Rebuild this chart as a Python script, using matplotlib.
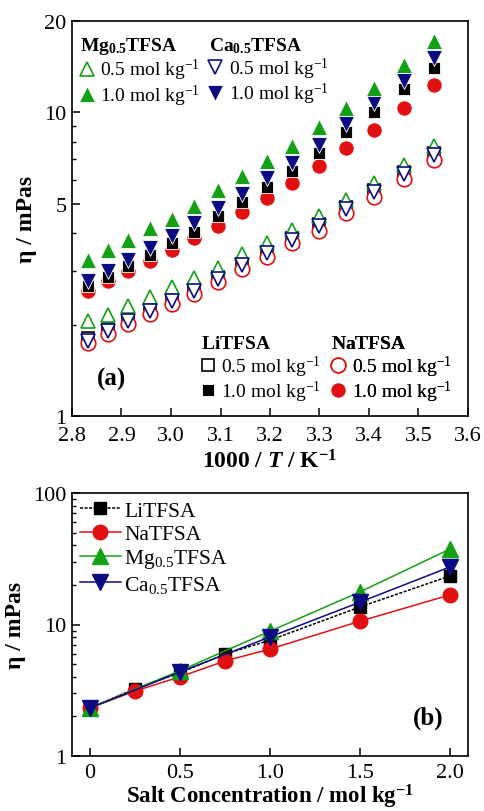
import matplotlib
matplotlib.use("Agg")
import matplotlib.pyplot as plt
from matplotlib.lines import Line2D
from matplotlib.ticker import FixedLocator, FixedFormatter, LogLocator, NullFormatter

# ---- panel (a): viscosity vs 1000/T ----
INV_T = [2.832, 2.872, 2.914, 2.957, 3.002, 3.047, 3.095, 3.143,
         3.193, 3.245, 3.299, 3.354, 3.411, 3.470, 3.532]

LI_05 = [1.80, 1.93, 2.08, 2.25, 2.42, 2.62, 2.87, 3.17, 3.48, 3.85, 4.28, 4.88, 5.55, 6.35, 7.35]
NA_05 = [1.74, 1.86, 2.01, 2.17, 2.33, 2.52, 2.76, 3.06, 3.34, 3.70, 4.08, 4.65, 5.28, 6.05, 6.98]
MG_05 = [2.05, 2.15, 2.30, 2.47, 2.66, 2.85, 3.07, 3.42, 3.72, 4.10, 4.56, 5.15, 5.85, 6.71, 7.75]
CA_05 = [1.77, 1.90, 2.05, 2.22, 2.39, 2.58, 2.83, 3.14, 3.44, 3.80, 4.22, 4.81, 5.47, 6.27, 7.24]

LI_10 = [2.68, 2.88, 3.12, 3.40, 3.70, 4.05, 4.55, 5.05, 5.70, 6.40, 7.35, 8.60, 10.0, 11.9, 14.0]
NA_10 = [2.58, 2.78, 3.00, 3.24, 3.52, 3.86, 4.22, 4.70, 5.22, 5.85, 6.66, 7.63, 8.75, 10.3, 12.3]
MG_10 = [3.26, 3.52, 3.80, 4.16, 4.46, 4.92, 5.55, 6.17, 6.92, 7.75, 8.95, 10.3, 12.0, 14.3, 17.2]
CA_10 = [2.78, 3.00, 3.26, 3.57, 3.92, 4.32, 4.84, 5.39, 6.08, 6.81, 7.81, 9.16, 10.7, 12.7, 15.1]

# ---- panel (b): viscosity vs salt concentration ----
CONC_MONO = [0, 0.25, 0.5, 0.75, 1.0, 1.5, 2.0]
CONC_DI = [0, 0.5, 1.0, 1.5, 2.0]
LI_B = [2.32, 3.25, 4.30, 5.95, 7.6, 13.6, 23.4]
NA_B = [2.32, 3.12, 4.00, 5.28, 6.5, 10.6, 16.8]
MG_B = [2.32, 4.45, 8.9, 17.7, 37.5]
CA_B = [2.32, 4.35, 8.05, 14.8, 27.4]

XTICKS_A = [2.8, 2.9, 3.0, 3.1, 3.2, 3.3, 3.4, 3.5, 3.6]
YTICKS_A = [1, 5, 10, 20]
XTICKS_B = [0, 0.5, 1.0, 1.5, 2.0]
XTICKLABELS_B = ["0", "0.5", "1.0", "1.5", "2.0"]

GREEN = "#14a014"
NAVY = "#0c0c82"
RED = "#e01010"
BLACK = "#000000"

plt.rcParams.update({
    "font.family": "Liberation Serif",
    "mathtext.fontset": "custom",
    "mathtext.rm": "Liberation Serif",
    "mathtext.it": "Liberation Serif:italic",
    "mathtext.bf": "Liberation Serif:bold",
    "mathtext.bfit": "Liberation Serif:italic:bold",
    "axes.linewidth": 1.2,
    "xtick.direction": "in",
    "ytick.direction": "in",
    "xtick.major.size": 6,
    "ytick.major.size": 6,
    "xtick.minor.size": 3,
    "ytick.minor.size": 3,
    "xtick.major.width": 1.1,
    "ytick.major.width": 1.1,
    "ytick.minor.width": 1.0,
})

UNIT = "mol kg$^{-1}$"


def style_axis(ax, xpad=7):
    ax.tick_params(axis="both", which="both", top=False, right=False, labelsize=16)
    ax.tick_params(axis="x", pad=xpad)
    ax.tick_params(axis="y", pad=4)


def marker_size(marker):
    return 8.5 if marker == "s" else 10.5


def open_kw(color, marker):
    return dict(linestyle="none", marker=marker, ms=marker_size(marker), mfc="white",
                mec=color, mew=1.2)


def filled_kw(color, marker):
    return dict(linestyle="none", marker=marker, ms=marker_size(marker) + 0.5, mfc=color,
                mec="white", mew=0.6)


def group_legend(ax, title, handles, anchor):
    leg = ax.legend(handles=handles, title=title, loc="upper left", bbox_to_anchor=anchor,
                    frameon=False, borderpad=0, borderaxespad=0, handlelength=0.7,
                    handletextpad=0.35, labelspacing=0.0, alignment="left",
                    fontsize=14, title_fontsize=14)
    leg._legend_box.sep = 1
    ax.add_artist(leg)


fig = plt.figure(figsize=(4.84, 8.12), dpi=100)

# ---------------- panel (a) ----------------
ax = fig.add_axes([72 / 484, 1 - 417 / 812, 396 / 484, 395 / 812])
ax.set_yscale("log")

ax.plot(INV_T, LI_05, **open_kw(BLACK, "s"))
ax.plot(INV_T, NA_05, **open_kw(RED, "o"))
ax.plot(INV_T, MG_05, **open_kw(GREEN, "^"))
ax.plot(INV_T, CA_05, **open_kw(NAVY, "v"))
ax.plot(INV_T, NA_10, **filled_kw(RED, "o"))
ax.plot(INV_T, LI_10, **filled_kw(BLACK, "s"))
ax.plot(INV_T, CA_10, **filled_kw(NAVY, "v"))
ax.plot(INV_T, MG_10, **filled_kw(GREEN, "^"))

ax.set_xlim(2.8, 3.6)
ax.set_ylim(1, 20)
ax.xaxis.set_major_locator(FixedLocator(XTICKS_A))
ax.xaxis.set_major_formatter(FixedFormatter([f"{v:.1f}" for v in XTICKS_A]))
ax.yaxis.set_major_locator(FixedLocator(YTICKS_A))
ax.yaxis.set_major_formatter(FixedFormatter([str(v) for v in YTICKS_A]))
ax.yaxis.set_minor_locator(LogLocator(base=10, subs=(2, 3, 4, 6, 7, 8, 9)))
ax.yaxis.set_minor_formatter(NullFormatter())
style_axis(ax)
ax.set_xlabel(r"$\mathbf{1000\ /\ }\mathbfit{T}\mathbf{\ /\ K^{-1}}$", fontsize=17, labelpad=3)
ax.set_ylabel("η / mPas", fontsize=17, fontweight="bold", labelpad=5)

group_legend(ax, r"$\mathbf{Mg}_{\mathbf{0.5}}\mathbf{TFSA}$",
             [Line2D([], [], **open_kw(GREEN, "^"), label="0.5 " + UNIT),
              Line2D([], [], **filled_kw(GREEN, "^"), label="1.0 " + UNIT)],
             (0.02, 0.965))
group_legend(ax, r"$\mathbf{Ca}_{\mathbf{0.5}}\mathbf{TFSA}$",
             [Line2D([], [], **open_kw(NAVY, "v"), label="0.5 " + UNIT),
              Line2D([], [], **filled_kw(NAVY, "v"), label="1.0 " + UNIT)],
             (0.345, 0.965))
group_legend(ax, r"$\mathbf{LiTFSA}$",
             [Line2D([], [], **open_kw(BLACK, "s"), label="0.5 " + UNIT),
              Line2D([], [], **filled_kw(BLACK, "s"), label="1.0 " + UNIT)],
             (0.325, 0.205))
group_legend(ax, r"$\mathbf{NaTFSA}$",
             [Line2D([], [], **open_kw(RED, "o"), label="0.5 " + UNIT),
              Line2D([], [], **filled_kw(RED, "o"), label="1.0 " + UNIT)],
             (0.655, 0.205))
ax.text(0.1, 0.095, "(a)", transform=ax.transAxes, fontsize=18, fontweight="bold",
        ha="center", va="center")

# ---------------- panel (b) ----------------
bx = fig.add_axes([72 / 484, 1 - 757 / 812, 396 / 484, 263 / 812])
bx.set_yscale("log")
bx.plot(CONC_MONO, LI_B, color=BLACK, lw=1.1, linestyle=(0, (2, 1)), marker="s", ms=8.5,
        mfc=BLACK, mec=BLACK, label="LiTFSA")
bx.plot(CONC_MONO, NA_B, color=RED, lw=1.1, marker="o", ms=10.5, mfc=RED, mec=RED,
        label="NaTFSA")
bx.plot(CONC_DI, MG_B, color=GREEN, lw=1.1, marker="^", ms=11, mfc=GREEN, mec=GREEN,
        label="Mg$_{0.5}$TFSA")
bx.plot(CONC_DI, CA_B, color=NAVY, lw=1.1, marker="v", ms=11, mfc=NAVY, mec=NAVY,
        label="Ca$_{0.5}$TFSA")
bx.set_xlim(-0.1, 2.1)
bx.set_ylim(1, 100)
bx.xaxis.set_major_locator(FixedLocator(XTICKS_B))
bx.xaxis.set_major_formatter(FixedFormatter(XTICKLABELS_B))
bx.yaxis.set_major_locator(FixedLocator([1, 10, 100]))
bx.yaxis.set_major_formatter(FixedFormatter(["1", "10", "100"]))
bx.yaxis.set_minor_locator(LogLocator(base=10, subs=(2, 3, 4, 5, 6, 7, 8, 9)))
bx.yaxis.set_minor_formatter(NullFormatter())
style_axis(bx, xpad=5)
bx.set_xlabel("Salt Concentration / mol kg$\\mathbf{^{-1}}$", fontsize=16.5,
              fontweight="bold", labelpad=0)
bx.set_ylabel("η / mPas", fontsize=17, fontweight="bold", labelpad=5)
bx.legend(loc="upper left", bbox_to_anchor=(0.02, 0.97), frameon=False, borderpad=0,
          borderaxespad=0, handlelength=1.9, handletextpad=0.15, labelspacing=0.15,
          numpoints=1, fontsize=15.5)
bx.text(0.9, 0.148, "(b)", transform=bx.transAxes, fontsize=18, fontweight="bold",
        ha="center", va="center")

fig.savefig("out.png", dpi=100)
